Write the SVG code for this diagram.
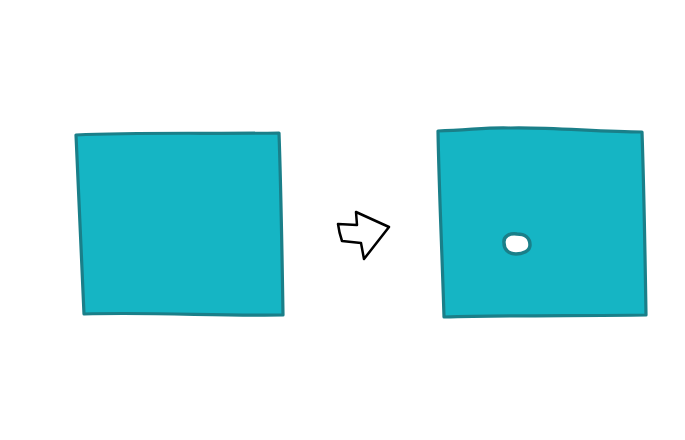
<svg xmlns="http://www.w3.org/2000/svg" width="685" height="440" viewBox="0 0 685 440">
<style>
.sq{fill:#15b5c4;stroke:#1a7f89;stroke-width:3.2;stroke-linejoin:round;stroke-linecap:round}
.arrow{fill:#fff;stroke:#000;stroke-width:2.5;stroke-linejoin:round}
</style>
<rect width="685" height="440" fill="#fff"/>
<g id="before">
<path class="sq" d="M76,135 C140,132 210,134 279,133 C281,190 282,250 283,315 C220,316 150,312 84,314 C81,250 79,190 76,135 Z"/>
</g>
<g id="connectors">
<path class="arrow" d="M338,224 L357,225 L356,212 L389,227 L364,259 L361,243 L342,241 Q339,232 338,224 Z"/>
</g>
<g id="after">
<path class="sq" d="M438,131 C470,130 490,127 510,128 C550,127 600,132 642,132 C644,190 645,250 646,315 C580,316 510,315 444,317 C442,250 439,190 438,131 Z"/>
<path d="M504,243 C503,236 510,233 517,234 C525,234 530,238 530,245 C530,251 523,254 516,254 C508,254 504,249 504,243 Z" fill="#fff" stroke="#1a7f89" stroke-width="3.5"/>
</g>
</svg>
